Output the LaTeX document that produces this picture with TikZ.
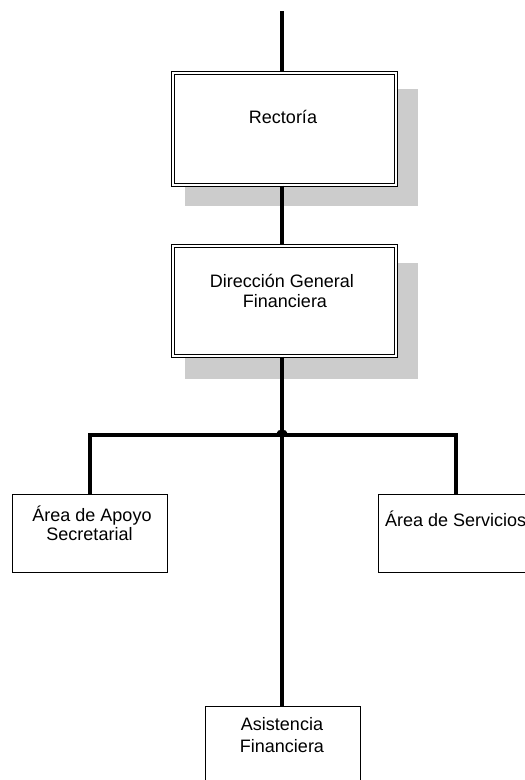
\documentclass[tikz,border=0pt]{standalone}
\usepackage{fontspec}
\setmainfont{Liberation Sans}
\begin{document}
\begin{tikzpicture}[x=1pt,y=-1pt,
  shadowbox/.style={fill=black!20, draw=none},
  dblbox/.style={draw, fill=white, rectangle, inner sep=0pt, line width=0.8pt,
    double=white, double distance=2pt, minimum width=223.4pt},
  plainbox/.style={draw, fill=white, rectangle, inner sep=0pt, line width=0.9pt,
    minimum width=155pt, minimum height=78pt},
  lbl/.style={anchor=base, inner sep=0pt, font=\fontsize{18}{20}\selectfont},
  conn/.style={line width=4.6pt, line join=miter}]
\useasboundingbox (0,0) rectangle (525,780);
\clip (0,0) rectangle (525,780);
% shadows
\fill[shadowbox] (185,89) rectangle (418,206);
\fill[shadowbox] (185,263) rectangle (418,379);
% boxes
\node[dblbox, minimum height=112.4pt] (rect) at (284.5,129) {};
\node[dblbox, minimum height=110.4pt] (dir) at (284.5,301) {};
\node[plainbox] (apoyo) at (89.5,533) {};
\node[plainbox, minimum width=182pt] (serv) at (469,533) {};
\node[plainbox] (asis) at (282.5,745) {};
% texts
\node[lbl] (rect-t) at (283,123) {Rectoría};
\node[lbl] (dir-t1) at (282,287) {Dirección General};
\node[lbl] (dir-t2) at (285,307) {Financiera};
\node[lbl] (apoyo-t1) at (92,521) {Área de Apoyo};
\node[lbl] (apoyo-t2) at (89.5,540) {Secretarial};
\node[lbl, anchor=base west] (serv-t) at (385,526) {Área de Servicios};
\node[lbl] (asis-t1) at (282,730) {Asistencia};
\node[lbl] (asis-t2) at (282,752) {Financiera};
% connectors
\coordinate (top) at (282,11);
\coordinate (jn) at (282,435);
\coordinate (bl) at (90,435);
\coordinate (br) at (456,435);
\draw[conn] (top) -- (top |- rect.north);
\draw[conn] (top |- rect.south) -- (top |- dir.north);
\draw[conn] (top |- dir.south) -- (jn) -- (top |- asis.north);
\draw[conn] (bl |- apoyo.north) -- (bl) -- (br) -- (br |- serv.north);
\fill (jn) ++(0,-1.5) ellipse (5.5pt and 4pt);
\end{tikzpicture}
\end{document}
